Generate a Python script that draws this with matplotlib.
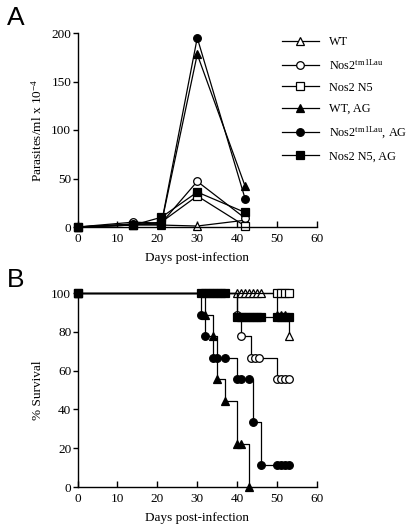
import matplotlib
matplotlib.use("Agg")
import matplotlib.pyplot as plt

plt.rcParams['font.family'] = ['Liberation Serif', 'DejaVu Serif']
plt.rcParams['mathtext.fontset'] = 'custom'
plt.rcParams['mathtext.rm'] = 'Liberation Serif'
plt.rcParams['mathtext.it'] = 'Liberation Serif:italic'
plt.rcParams['mathtext.default'] = 'regular'

# ---------------- Panel A data ----------------
days_a = [0, 14, 21, 30, 42]
wt = [0, 2, 2, 1, 7]
nos2 = [0, 5, 4, 47, 9]
nos2_n5 = [0, 2, 5, 32, 1]
wt_ag = [0, 3, 3, 178, 42]
nos2_ag = [0, 3, 3, 195, 29]
n5_ag = [0, 2, 10, 36, 15]

labels = ['WT', r'Nos2$^{\mathrm{tm1Lau}}$', 'Nos2 N5', 'WT, AG',
          r'Nos2$^{\mathrm{tm1Lau}}$, AG', 'Nos2 N5, AG']

# ---------------- Panel B data (survival, %) ----------------
t_wt = [0, 40, 41, 42, 43, 44, 45, 46, 50, 51, 52, 53]
s_wt = [100, 100, 100, 100, 100, 100, 100, 100, 88.9, 88.9, 88.9, 77.8]
t_nos2 = [0, 40, 41, 43.5, 44.5, 45.5, 50, 51, 52, 53]
s_nos2 = [100, 88.9, 77.8, 66.7, 66.7, 66.7, 55.6, 55.6, 55.6, 55.6]
t_n5 = [0, 50, 51, 52, 53]
s_n5 = [100, 100, 100, 100, 100]
t_wt_ag = [0, 32, 34, 35, 37, 40, 41, 43]
s_wt_ag = [100, 88.9, 77.8, 55.6, 44.4, 22.2, 22.2, 0]
t_nos2_ag = [0, 31, 32, 34, 35, 37, 40, 41, 43, 44, 46, 50, 51, 52, 53]
s_nos2_ag = [100, 88.9, 77.8, 66.7, 66.7, 66.7, 55.6, 55.6, 55.6, 33.3,
             11.1, 11.1, 11.1, 11.1, 11.1]
t_n5_ag = [0, 31, 32, 33, 34, 35, 36, 37, 40, 41, 42, 43, 44, 45, 46,
           50, 51, 52, 53]
s_n5_ag = [100, 100, 100, 100, 100, 100, 100, 100, 87.5, 87.5, 87.5,
           87.5, 87.5, 87.5, 87.5, 87.5, 87.5, 87.5, 87.5]

styles = [
    dict(marker='^', mfc='white'),
    dict(marker='o', mfc='white'),
    dict(marker='s', mfc='white'),
    dict(marker='^', mfc='black'),
    dict(marker='o', mfc='black'),
    dict(marker='s', mfc='black'),
]

fig = plt.figure(figsize=(4.11, 5.31), dpi=100)
W, H = 411, 531
axA = fig.add_axes([77.5 / W, 1 - 227 / H, (317 - 77.5) / W, (227 - 33) / H])
axB = fig.add_axes([77.5 / W, 1 - 487 / H, (317 - 77.5) / W, (487 - 293) / H])

ms = 5.5
lw = 0.9
fs = 9.5
series_a = [wt, nos2, nos2_n5, wt_ag, nos2_ag, n5_ag]
handles = []
for ys, st, lab in zip(series_a, styles, labels):
    h, = axA.plot(days_a, ys, color='black', lw=lw, marker=st['marker'],
                  mfc=st['mfc'], mec='black', mew=0.9, ms=ms, clip_on=False,
                  label=lab)
    handles.append(h)

series_b = [(t_wt, s_wt), (t_nos2, s_nos2), (t_n5, s_n5),
            (t_wt_ag, s_wt_ag), (t_nos2_ag, s_nos2_ag), (t_n5_ag, s_n5_ag)]
for (tt, ss), st in zip(series_b, styles):
    axB.plot(tt, ss, color='black', lw=lw, drawstyle='steps-post',
             clip_on=False)
    axB.plot(tt, ss, ls='none', marker=st['marker'], mfc=st['mfc'],
             mec='black', mew=0.9, ms=ms, clip_on=False)

for ax in (axA, axB):
    ax.spines['top'].set_visible(False)
    ax.spines['right'].set_visible(False)
    for s in ('left', 'bottom'):
        ax.spines[s].set_linewidth(1.0)
    ax.set_xlim(0, 60)
    ax.set_xticks(range(0, 61, 10))
    ax.tick_params(axis='x', direction='in', length=4, width=1.0,
                   labelsize=fs, pad=4)
    ax.tick_params(axis='y', direction='out', length=3.5, width=1.0,
                   labelsize=fs, pad=1)
    ax.set_xlabel('Days post-infection', fontsize=fs, labelpad=5)

axA.set_ylim(0, 200)
axA.set_yticks([0, 50, 100, 150, 200])
axA.set_ylabel(r'Parasites/ml x 10$^{-4}$', fontsize=fs, labelpad=5)

axB.set_ylim(0, 100)
axB.set_yticks([0, 20, 40, 60, 80, 100])
axB.set_ylabel('% Survival', fontsize=fs, labelpad=5)

fig.legend(handles=handles, loc='upper left',
           bbox_to_anchor=(282 / W, 1 - 36 / H), frameon=False,
           fontsize=8.8, handlelength=3.0, handletextpad=0.85,
           labelspacing=0.78, borderpad=0, borderaxespad=0)

fig.text(7 / W, 1 - 6 / H, 'A', fontsize=19, family='Liberation Sans',
         va='top', ha='left')
fig.text(7 / W, 1 - 268 / H, 'B', fontsize=19, family='Liberation Sans',
         va='top', ha='left')

fig.savefig('out.png', dpi=100)
